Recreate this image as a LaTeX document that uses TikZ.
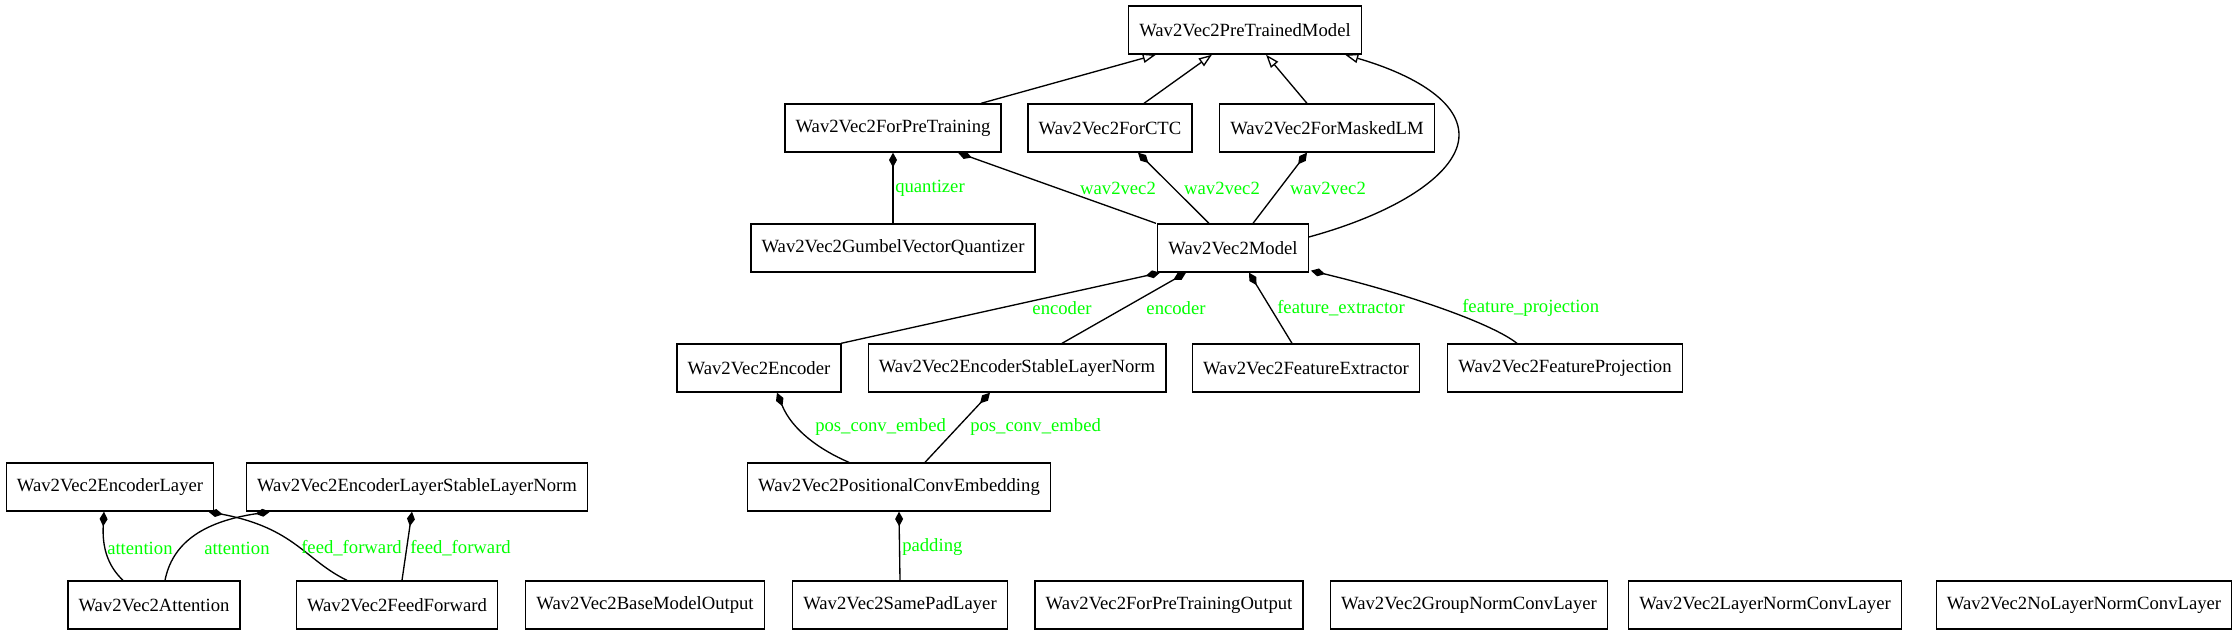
\documentclass[tikz,border=0pt]{standalone}
\usepackage{fontspec}
\setmainfont{Liberation Serif}
\usetikzlibrary{arrows.meta,calc}
\definecolor{lbl}{RGB}{0,255,0}
\begin{document}
\begin{tikzpicture}[x=0.75pt,y=-0.75pt,
  box/.style={draw,line width=1pt,rectangle,minimum height=36pt,inner xsep=8pt,inner ysep=0pt,font=\fontsize{14}{16}\selectfont},
  lab/.style={text=lbl,font=\fontsize{14}{16}\selectfont,inner sep=0pt},
  inh/.style={line width=1pt,-{Triangle[open,length=10pt,width=7pt,fill=white]}},
  comp/.style={line width=1pt,-{Diamond[length=11pt,width=6pt]}}]
\useasboundingbox (0,0) rectangle (2239,637);
% nodes
\node[box] (ptm) at (1245,30) {Wav2Vec2PreTrainedModel};
\node[box] (fpt) at (893,128) {Wav2Vec2ForPreTraining};
\node[box] (ctc) at (1110,128) {Wav2Vec2ForCTC};
\node[box] (mlm) at (1327,128) {Wav2Vec2ForMaskedLM};
\node[box] (gum) at (893,248) {Wav2Vec2GumbelVectorQuantizer};
\node[box] (mod) at (1233,248) {Wav2Vec2Model};
\node[box] (enc) at (759,368) {Wav2Vec2Encoder};
\node[box] (esl) at (1017,368) {Wav2Vec2EncoderStableLayerNorm};
\node[box] (fex) at (1306,368) {Wav2Vec2FeatureExtractor};
\node[box] (fpj) at (1565,368) {Wav2Vec2FeatureProjection};
\node[box] (pce) at (899,487) {Wav2Vec2PositionalConvEmbedding};
\node[box] (el) at (110,487) {Wav2Vec2EncoderLayer};
\node[box] (elsl) at (417,487) {Wav2Vec2EncoderLayerStableLayerNorm};
\node[box] (att) at (154,605) {Wav2Vec2Attention};
\node[box] (ff) at (397,605) {Wav2Vec2FeedForward};
\node[box] (bmo) at (645,605) {Wav2Vec2BaseModelOutput};
\node[box] (spl) at (900,605) {Wav2Vec2SamePadLayer};
\node[box] (fpto) at (1169,605) {Wav2Vec2ForPreTrainingOutput};
\node[box] (gnc) at (1469,605) {Wav2Vec2GroupNormConvLayer};
\node[box] (lnc) at (1765,605) {Wav2Vec2LayerNormConvLayer};
\node[box] (nlc) at (2084,605) {Wav2Vec2NoLayerNormConvLayer};
% inheritance
\draw[inh] ($(fpt.north)+(88,0)$) -- ($(ptm.south)+(-89,0)$);
\draw[inh] ($(ctc.north)+(34,0)$) -- ($(ptm.south)+(-33,0)$);
\draw[inh] ($(mlm.north)+(-20,0)$) -- ($(ptm.south)+(21,0)$);
\coordinate (mr) at (1459,135);
\draw[inh] ($(mod.east)+(0,-11)$) .. controls (1400,212) and (1459,172) .. (mr)
  .. controls (1459,98) and (1405,72) .. ($(ptm.south)+(100,0)$);
% composition
\draw[comp] (gum.north) -- (fpt.south);
\node[lab,anchor=west] (l1) at (895,188) {quantizer};
\draw[comp] ($(mod.north)+(-77,0)$) -- ($(fpt.south)+(65,0)$);
\node[lab] (l2) at (1118,188) {wav2vec2};
\draw[comp] ($(mod.north)+(-24,0)$) -- ($(ctc.south)+(28,0)$);
\node[lab] (l3) at (1222,188) {wav2vec2};
\draw[comp] ($(mod.north)+(20,0)$) -- ($(mlm.south)+(-20,0)$);
\node[lab] (l4) at (1328,188) {wav2vec2};
\draw[comp] ($(enc.north)+(82,0)$) -- ($(mod.south)+(-73,0)$);
\node[lab] (l5) at (1062,308) {encoder};
\draw[comp] ($(esl.north)+(45,0)$) -- ($(mod.south)+(-47,0)$);
\node[lab] (l6) at (1176,308) {encoder};
\draw[comp] ($(fex.north)+(-14,0)$) -- ($(mod.south)+(16,0)$);
\node[lab,anchor=west] (l7) at (1277,308) {feature\_extractor};
\draw[comp] ($(fpj.north)+(-48,0)$) .. controls (1490,322) and (1400,292) .. ($(mod.south east)+(2,-2)$);
\node[lab,anchor=west] (l8) at (1462,308) {feature\_projection};
\draw[comp] ($(pce.north)+(-50,0)$) .. controls (820,450) and (792,430) .. ($(enc.south)+(18,0)$);
\node[lab,anchor=west] (l9) at (815,427) {pos\_conv\_embed};
\draw[comp] ($(pce.north)+(26,0)$) -- ($(esl.south)+(-27,0)$);
\node[lab,anchor=west] (l10) at (970,427) {pos\_conv\_embed};
\draw[comp] (spl.north) -- (pce.south);
\node[lab,anchor=west] (l11) at (902,547) {padding};
\draw[comp] ($(att.north)+(-31,0)$) .. controls (108,566) and (102,548) .. ($(el.south)+(-6,0)$);
\node[lab,anchor=west] (l12) at (107,548) {attention};
\draw[comp] ($(att.north)+(11,0)$) .. controls (172,545) and (200,522) .. ($(elsl.south)+(-147,0)$);
\node[lab,anchor=west] (l13) at (204,548) {attention};
\draw[comp] ($(ff.north)+(-50,0)$) .. controls (305,560) and (295,528) .. ($(el.south east)+(-6,0)$);
\node[lab,anchor=west] (l14) at (301,548) {feed\_forward};
\draw[comp] ($(ff.north)+(5,0)$) -- ($(elsl.south)+(-5,0)$);
\node[lab,anchor=west] (l15) at (410,548) {feed\_forward};
\end{tikzpicture}
\end{document}
